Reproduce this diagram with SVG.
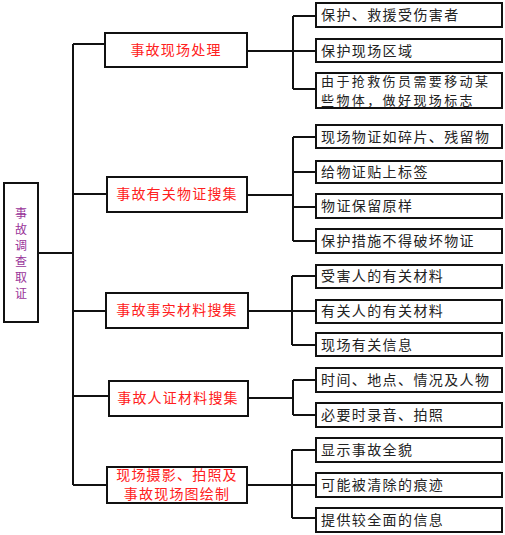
<svg xmlns="http://www.w3.org/2000/svg" width="505" height="535" viewBox="0 0 505 535">
<style>
.box{fill:#fff;stroke:#111;stroke-width:2}
.ln{fill:none;stroke:#111;stroke-width:2}
.t1{font-family:"Noto Sans CJK SC","Noto Sans CJK JP",sans-serif;font-size:14px;fill:#ff2020;text-anchor:middle;letter-spacing:1.2px}
.t2{font-family:"Noto Sans CJK SC","Noto Sans CJK JP",sans-serif;font-size:14px;fill:#222;letter-spacing:1.4px}
.t3{font-family:"Noto Sans CJK SC","Noto Sans CJK JP",sans-serif;font-size:13px;fill:#222;letter-spacing:2.4px}
.t0{font-family:"Noto Sans CJK SC","Noto Sans CJK JP",sans-serif;font-size:12px;fill:#993399;text-anchor:middle}
</style>
<rect width="505" height="535" fill="#fff"/>
<g id="connectors">
<path class="ln" d="M38 253H73M73 44V485M73 44H105M73 194H107M73 311H106M73 396H109M73 485H107"/>
<path class="ln" d="M247 51H293M293 16V89M293 16H316M293 51H316M293 89H316"/>
<path class="ln" d="M247 195H293M293 137V241M293 137H316M293 172H316M293 207H316M293 241H316"/>
<path class="ln" d="M248 311H292M292 276V345M292 276H316M292 311H316M292 345H316"/>
<path class="ln" d="M248 398H293M293 380V415M293 380H316M293 415H316"/>
<path class="ln" d="M247 485H292M292 450V518M292 450H316M292 485H316M292 518H316"/>
</g>
<g id="root">
<rect class="box" x="4" y="183" width="34" height="139"/>
<text class="t0" x="21" y="218">事</text>
<text class="t0" x="21" y="234">故</text>
<text class="t0" x="21" y="250">调</text>
<text class="t0" x="21" y="266">查</text>
<text class="t0" x="21" y="282">取</text>
<text class="t0" x="21" y="298">证</text>
</g>
<g id="n1">
<rect class="box" x="105" y="33" width="142" height="34"/>
<text class="t1" x="176" y="55">事故现场处理</text>
</g>
<g id="n2">
<rect class="box" x="107" y="177" width="140" height="35"/>
<text class="t1" x="177" y="199">事故有关物证搜集</text>
</g>
<g id="n3">
<rect class="box" x="106" y="293" width="142" height="35"/>
<text class="t1" x="177" y="315">事故事实材料搜集</text>
</g>
<g id="n4">
<rect class="box" x="109" y="381" width="139" height="35"/>
<text class="t1" x="178" y="403">事故人证材料搜集</text>
</g>
<g id="n5">
<rect class="box" x="107" y="467" width="140" height="36"/>
<text class="t1" x="177" y="480">现场摄影、拍照及</text>
<text class="t1" x="177" y="499">事故现场图绘制</text>
</g>
<g id="n1a"><rect class="box" x="316" y="3" width="186" height="24"/><text class="t2" x="321" y="20">保护、救援受伤害者</text></g>
<g id="n1b"><rect class="box" x="316" y="39" width="186" height="23"/><text class="t2" x="321" y="56">保护现场区域</text></g>
<g id="n1c"><rect class="box" x="316" y="73" width="186" height="35"/><text class="t3" x="321" y="86">由于抢救伤员需要移动某</text><text class="t3" x="321" y="105">些物体，做好现场标志</text></g>
<g id="n2a"><rect class="box" x="316" y="125" width="186" height="23"/><text class="t2" x="321" y="142">现场物证如碎片、残留物</text></g>
<g id="n2b"><rect class="box" x="316" y="161" width="186" height="22"/><text class="t2" x="321" y="177">给物证贴上标签</text></g>
<g id="n2c"><rect class="box" x="316" y="194" width="186" height="24"/><text class="t2" x="321" y="211">物证保留原样</text></g>
<g id="n2d"><rect class="box" x="316" y="229" width="186" height="24"/><text class="t2" x="321" y="246">保护措施不得破坏物证</text></g>
<g id="n3a"><rect class="box" x="316" y="265" width="186" height="23"/><text class="t2" x="321" y="281">受害人的有关材料</text></g>
<g id="n3b"><rect class="box" x="316" y="300" width="186" height="23"/><text class="t2" x="321" y="316">有关人的有关材料</text></g>
<g id="n3c"><rect class="box" x="316" y="333" width="186" height="23"/><text class="t2" x="321" y="350">现场有关信息</text></g>
<g id="n4a"><rect class="box" x="316" y="368" width="186" height="24"/><text class="t2" x="321" y="385">时间、地点、情况及人物</text></g>
<g id="n4b"><rect class="box" x="316" y="403" width="186" height="24"/><text class="t2" x="321" y="420">必要时录音、拍照</text></g>
<g id="n5a"><rect class="box" x="316" y="438" width="186" height="24"/><text class="t2" x="321" y="455">显示事故全貌</text></g>
<g id="n5b"><rect class="box" x="316" y="473" width="186" height="24"/><text class="t2" x="321" y="490">可能被清除的痕迹</text></g>
<g id="n5c"><rect class="box" x="316" y="508" width="186" height="24"/><text class="t2" x="321" y="525">提供较全面的信息</text></g>
</svg>
